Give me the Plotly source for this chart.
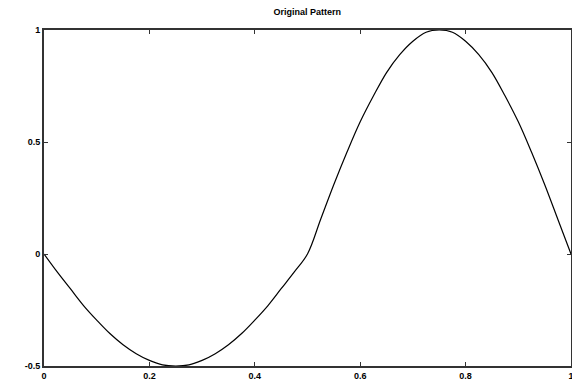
import plotly.graph_objects as go

x_vals = [0.0, 0.025, 0.05, 0.075, 0.1, 0.125, 0.15, 0.175, 0.2, 0.225, 0.25,
          0.275, 0.3, 0.325, 0.35, 0.375, 0.4, 0.425, 0.45, 0.475, 0.5,
          0.525, 0.55, 0.575, 0.6, 0.625, 0.65, 0.675, 0.7, 0.725, 0.75,
          0.775, 0.8, 0.825, 0.85, 0.875, 0.9, 0.925, 0.95, 0.975, 1.0]
y_vals = [0.0, -0.08, -0.155, -0.23, -0.295, -0.355, -0.405, -0.445, -0.475, -0.495, -0.5,
          -0.495, -0.475, -0.445, -0.405, -0.355, -0.295, -0.23, -0.155, -0.08, 0.0,
          0.155, 0.31, 0.455, 0.59, 0.705, 0.81, 0.89, 0.95, 0.99, 1.0,
          0.99, 0.95, 0.89, 0.81, 0.705, 0.59, 0.455, 0.31, 0.155, 0.0]
x_ticks = [0, 0.2, 0.4, 0.6, 0.8, 1]
x_tick_labels = ["0", "0.2", "0.4", "0.6", "0.8", "1"]
y_ticks = [-0.5, 0, 0.5, 1]
y_tick_labels = ["-0.5", "0", "0.5", "1"]
title_text = "Original Pattern"

fig = go.Figure()
fig.add_trace(go.Scatter(x=x_vals, y=y_vals, mode="lines",
                         line=dict(color="black", width=1.2, shape="spline"),
                         showlegend=False, cliponaxis=False, hoverinfo="skip"))

tick_font = dict(family="Liberation Sans", size=9, color="black", weight="bold")
axis_common = dict(showline=True, linecolor="#333333", linewidth=2, mirror="ticks",
                   ticks="inside", ticklen=4, tickcolor="#333333", tickwidth=1,
                   showgrid=False, zeroline=False, automargin=False,
                   ticklabeloverflow="allow", tickfont=tick_font)

fig.update_layout(
    width=572, height=383,
    margin=dict(l=44, r=1, t=30, b=17),
    paper_bgcolor="white", plot_bgcolor="white",
    title=dict(text=title_text, x=0.537, xanchor="center", y=0.968, yanchor="middle",
               font=dict(family="Liberation Sans", size=9, color="black", weight="bold")),
    xaxis=dict(range=[0, 1], tickvals=x_ticks, ticktext=x_tick_labels, ticklabelstandoff=0, **axis_common),
    yaxis=dict(range=[-0.5, 1], tickvals=y_ticks, ticktext=y_tick_labels, **axis_common),
)

fig.write_html("out.html", config={"displayModeBar": False},
               post_script="document.body.style.margin='0';document.body.style.overflow='hidden';")
